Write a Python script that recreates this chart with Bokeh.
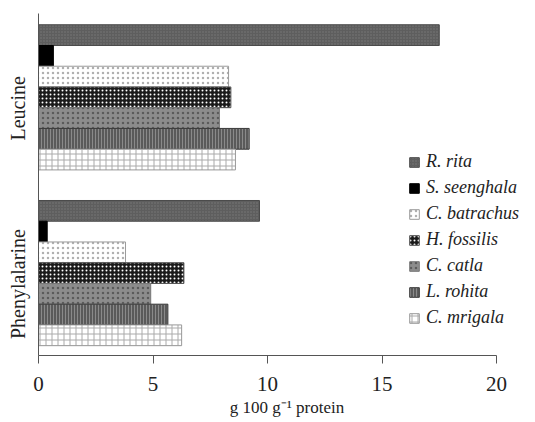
from bokeh.plotting import figure
from bokeh.models import Range1d, FixedTicker, Legend, LegendItem, ColumnDataSource
from bokeh.embed import file_html
from bokeh.resources import INLINE

categories = ["Phenylalarine", "Leucine"]
species = ["R. rita", "S. seenghala", "C. batrachus", "H. fossilis", "C. catla", "L. rohita", "C. mrigala"]
leucine = [17.5, 0.65, 8.3, 8.4, 7.9, 9.2, 8.6]
phenylalanine = [9.65, 0.38, 3.8, 6.35, 4.9, 5.65, 6.25]
x_ticks = [0, 5, 10, 15, 20]

styles = [
    dict(fill_color="#5e5e5e", hatch_pattern="dot", hatch_color="#7a7a7a", hatch_scale=3, hatch_weight=1, line_color="#4a4a4a"),
    dict(fill_color="#000000", line_color="#000000"),
    dict(fill_color="#ffffff", hatch_pattern="dot", hatch_color="#b0b0b0", hatch_scale=5, hatch_weight=1, line_color="#9a9a9a"),
    dict(fill_color="#1a1a1a", hatch_pattern="dot", hatch_color="#ffffff", hatch_scale=4, hatch_weight=1, line_color="#555555"),
    dict(fill_color="#8c8c8c", hatch_pattern="dot", hatch_color="#5a5a5a", hatch_scale=5, hatch_weight=1, line_color="#777777"),
    dict(fill_color="#5a5a5a", hatch_pattern="vertical_line", hatch_color="#8a8a8a", hatch_scale=3, hatch_weight=1, line_color="#3a3a3a"),
    dict(fill_color="#ffffff", hatch_pattern="cross", hatch_color="#aaaaaa", hatch_scale=6, hatch_weight=1, line_color="#999999"),
]

W, H = 535, 422
# frame extends to the right edge so the legend is not clipped; axis bounded at 20
x_max = 20 * (W - 38) / 458
p = figure(width=W, height=H, output_backend="svg", toolbar_location=None,
           x_range=Range1d(0, x_max), y_range=Range1d(0.031, 1.977),
           min_border_left=38, min_border_right=0, min_border_top=13, min_border_bottom=67)
p.outline_line_color = None
p.grid.visible = False

bar_h = 0.118
centers = [0.5, 1.5]
items = []
for i, name in enumerate(species):
    offs = (3 - i) * bar_h
    src = ColumnDataSource(dict(y=[c + offs for c in centers],
                                right=[phenylalanine[i], leucine[i]]))
    r = p.hbar(y="y", right="right", left=0, height=bar_h, source=src, line_width=1, **styles[i])
    items.append(LegendItem(label=name, renderers=[r]))

legend = Legend(items=items, location=(370, 27), orientation="vertical",
                glyph_width=12, glyph_height=12, label_height=20, spacing=5,
                padding=0, margin=0, label_standoff=6,
                label_text_font="Liberation Serif", label_text_font_style="italic",
                label_text_font_size="18px", label_text_color="#222222",
                border_line_color=None, background_fill_alpha=0)
p.add_layout(legend, "center")

p.xaxis.bounds = (0, 20)
p.xaxis.ticker = FixedTicker(ticks=x_ticks)
p.xaxis.minor_tick_line_color = None
p.xaxis.major_tick_out = 8
p.xaxis.major_tick_in = 0
p.xaxis.axis_line_color = "#555555"
p.xaxis.major_tick_line_color = "#555555"
p.xaxis.major_label_text_font = "Liberation Serif"
p.xaxis.major_label_text_font_size = "21px"
p.xaxis.major_label_text_color = "#222222"
p.xaxis.major_label_standoff = 13
p.xaxis.axis_label = "g 100 g\u207b\u00b9 protein"
p.xaxis.axis_label_text_font = "Liberation Serif"
p.xaxis.axis_label_text_font_style = "normal"
p.xaxis.axis_label_text_font_size = "17px"
p.xaxis.axis_label_text_color = "#222222"
p.xaxis.axis_label_standoff = 4

label_pos = [c - 0.063 for c in centers]
p.yaxis.ticker = FixedTicker(ticks=label_pos)
p.yaxis.major_label_overrides = {label_pos[0]: categories[0], label_pos[1]: categories[1]}
p.yaxis.major_label_orientation = "vertical"
p.yaxis.minor_tick_line_color = None
p.yaxis.major_tick_line_color = None
p.yaxis.axis_line_color = "#555555"
p.yaxis.major_label_text_font = "Liberation Serif"
p.yaxis.major_label_text_font_size = "20px"
p.yaxis.major_label_text_color = "#222222"
p.yaxis.major_label_standoff = 3

open("out.html", "w").write(file_html(p, INLINE))
